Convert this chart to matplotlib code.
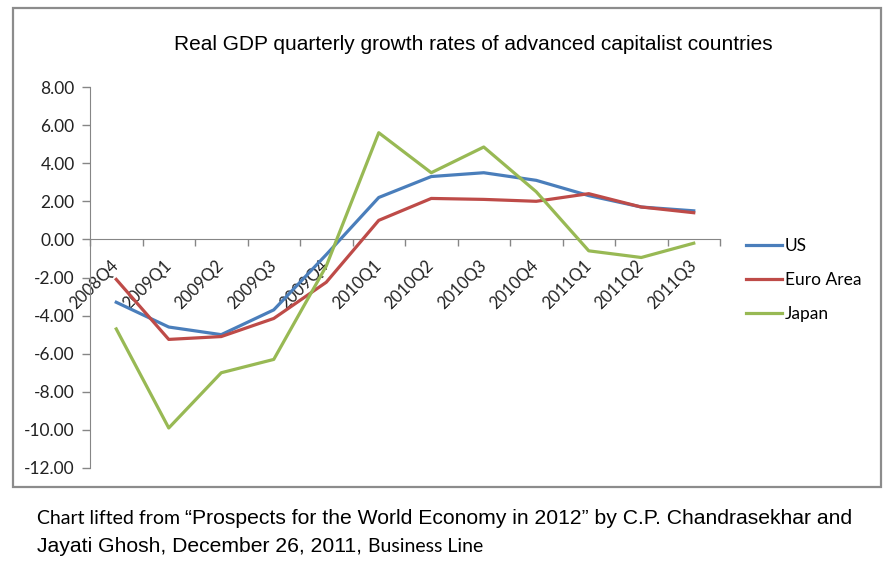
import matplotlib
matplotlib.use("Agg")
import matplotlib.pyplot as plt
from matplotlib import font_manager
from matplotlib.patches import Rectangle

quarters = ["2008Q4", "2009Q1", "2009Q2", "2009Q3", "2009Q4", "2010Q1",
            "2010Q2", "2010Q3", "2010Q4", "2011Q1", "2011Q2", "2011Q3"]
us = [-3.3, -4.6, -5.0, -3.7, -0.8, 2.2, 3.3, 3.5, 3.1, 2.3, 1.7, 1.5]
euro = [-2.1, -5.25, -5.1, -4.15, -2.25, 1.0, 2.15, 2.1, 2.0, 2.4, 1.7, 1.4]
japan = [-4.7, -9.9, -7.0, -6.3, -1.4, 5.6, 3.5, 4.85, 2.5, -0.6, -0.95, -0.2]
yticks = [8, 6, 4, 2, 0, -2, -4, -6, -8, -10, -12]
ytick_labels = ["8.00", "6.00", "4.00", "2.00", "0.00", "-2.00", "-4.00",
                "-6.00", "-8.00", "-10.00", "-12.00"]

installed = {f.name for f in font_manager.fontManager.ttflist}
narrow = "Liberation Sans Narrow" if "Liberation Sans Narrow" in installed else "Liberation Sans"
body = "Lato"

W, H = 892, 568
fig = plt.figure(figsize=(W / 100, H / 100), dpi=100)

# outer chart frame
fig.patches.append(Rectangle((13 / W, 1 - 487 / H), 868 / W, 479 / H,
                             transform=fig.transFigure, fill=False,
                             edgecolor="#8c8c8c", lw=1.6))

ax = fig.add_axes([90 / W, 1 - 468 / H, 630 / W, 381 / H])

# spines first: moving the bottom spine resets the ticks
for s in ["top", "right"]:
    ax.spines[s].set_visible(False)
ax.spines["left"].set_color("#868686")
ax.spines["bottom"].set_color("#868686")
ax.spines["bottom"].set_position(("data", 0))
ax.spines["bottom"].set_zorder(0)

x = [i + 0.5 for i in range(len(quarters))]
ax.plot(x, us, color="#4a7ebb", lw=2.3, label="US", solid_joinstyle="round")
ax.plot(x, euro, color="#be4b48", lw=2.3, label="Euro Area", solid_joinstyle="round")
ax.plot(x, japan, color="#98b954", lw=2.3, label="Japan", solid_joinstyle="round")

ax.set_xlim(0, len(quarters))
ax.set_ylim(-12, 8)
ax.set_yticks(yticks)
ax.set_yticklabels(ytick_labels, fontsize=12.5, family=body, color="#222222")
ax.tick_params(axis="y", direction="out", length=6, width=1, color="#868686", pad=5)

ax.set_xticks(range(len(quarters) + 1))
ax.set_xticklabels([])
ax.tick_params(axis="x", which="major", direction="out", length=5, width=1, color="#868686")
ax.set_xticks(x, minor=True)
ax.set_xticklabels(quarters, minor=True)
ax.tick_params(axis="x", which="minor", length=0, pad=17, labelrotation=45)

# category labels at 45 degrees, anchored at their right end
for lab in ax.xaxis.get_minorticklabels():
    lab.set_rotation_mode("anchor")
    lab.set_ha("right")
    lab.set_va("center")
    lab.set_fontsize(12)
    lab.set_family(body)
    lab.set_color("#222222")

leg = fig.legend(loc="upper left", bbox_to_anchor=(746 / W, 1 - 238 / H),
                 frameon=False, prop={"family": body, "size": 12.5},
                 handlelength=2.1, handletextpad=0.15, labelspacing=1.03,
                 borderpad=0, borderaxespad=0)

fig.text(473 / W, 1 - 45 / H, "Real GDP quarterly growth rates of advanced capitalist countries",
         ha="center", va="center", fontsize=15, family=narrow)

# caption, built from pieces in different fonts
renderer = fig.canvas.get_renderer()


def caption_line(pieces, y):
    xpos = 37
    for txt, fam, size in pieces:
        t = fig.text(xpos / W, 1 - y / H, txt, ha="left", va="center",
                     fontsize=size, family=fam)
        xpos += t.get_window_extent(renderer).width


caption_line([("Chart lifted from ", body, 14),
              ("\u201cProspects for the World Economy in 2012\u201d by C.P. Chandrasekhar and", narrow, 15.2)], 518)
caption_line([("Jayati Ghosh, December 26, 2011, ", narrow, 15.2),
              ("Business Line", body, 14)], 547)

fig.savefig("out.png", dpi=100)
